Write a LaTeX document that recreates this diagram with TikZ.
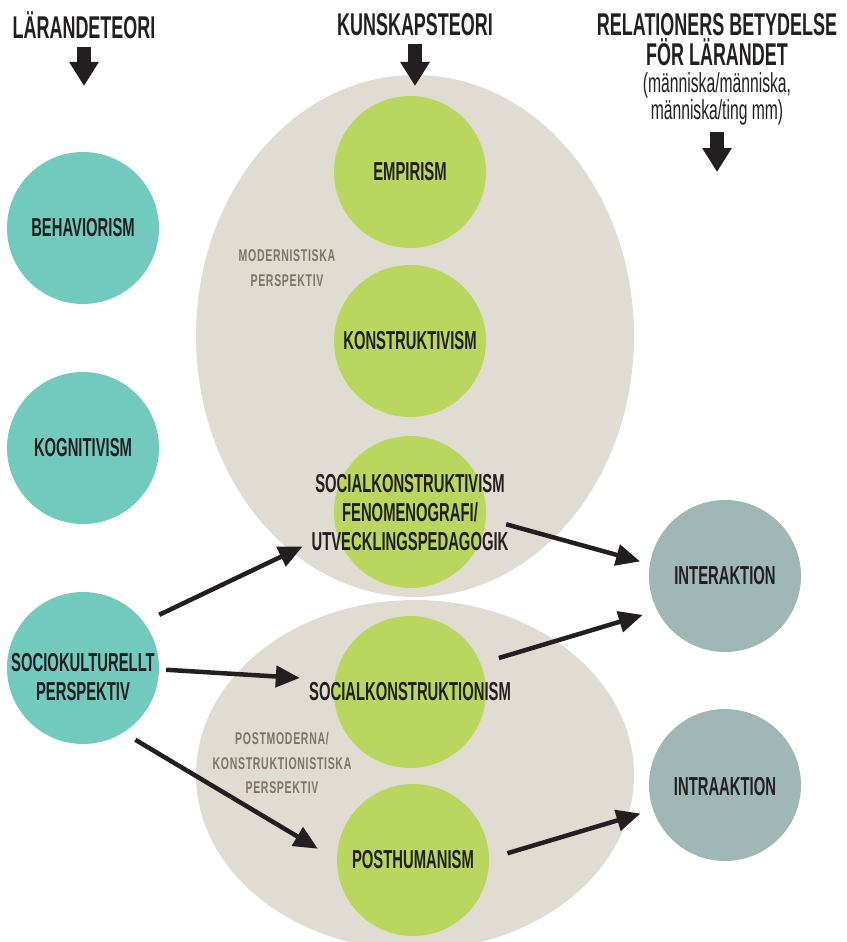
\documentclass[tikz,border=0pt]{standalone}
\usepackage{fontspec}
\setmainfont{Liberation Sans}
\newfontfamily\condfont[FakeStretch=0.57]{Liberation Sans}
\newfontfamily\lblfont[FakeStretch=0.62,LetterSpace=4]{Liberation Sans}
\usetikzlibrary{arrows.meta}
\definecolor{tealc}{HTML}{72C9BE}
\definecolor{greenc}{HTML}{B9D65F}
\definecolor{greyc}{HTML}{9FB7B6}
\definecolor{beigec}{HTML}{E1DCD1}
\definecolor{brownc}{HTML}{7F7465}
\definecolor{inkc}{HTML}{231F20}
\begin{document}
\begin{tikzpicture}[x=1pt, y=-1pt,
    circ/.style={circle, minimum size=152pt, inner sep=0pt},
    txt/.style={font=\condfont\bfseries\fontsize{26}{29}\selectfont, text=inkc, align=center, inner sep=0pt},
    hd/.style={font=\condfont\bfseries\fontsize{31.5}{30}\selectfont, text=inkc, align=center, inner sep=0pt},
    sub/.style={font=\condfont\fontsize{27.5}{27}\selectfont, text=inkc, align=center, inner sep=0pt},
    persp/.style={font=\lblfont\bfseries\fontsize{17}{24.5}\selectfont, text=brownc, align=center, inner sep=0pt},
    arr/.style={draw=inkc, line width=4.5pt, -{Triangle[length=24pt, width=21pt]}},
    hdarr/.style={draw=inkc, line width=14pt, -{Triangle[length=24pt, width=28pt]}}]
\useasboundingbox (0,0) rectangle (846,942);

% perspektiv
\fill[beigec] (415,336) ellipse [x radius=219, y radius=261];
\fill[beigec] (415,775) ellipse [x radius=219, y radius=175];
\node[persp] (modern) at (287,268) {MODERNISTISKA\\PERSPEKTIV};
\node[persp] (postmod) at (282,763) {POSTMODERNA/\\KONSTRUKTIONISTISKA\\PERSPEKTIV};

% rubriker
\node[hd] (lt) at (84,25) {LÄRANDETEORI};
\node[hd] (kt) at (415,25) {KUNSKAPSTEORI};
\node[hd] (rb) at (717,40) {RELATIONERS BETYDELSE\\FÖR LÄRANDET};
\node[sub] (rbsub) at (717,99) {(människa/människa,\\människa/ting mm)};
\coordinate (lttip) at (84,86);
\coordinate (kttip) at (415,86);
\coordinate (rbtip) at (717,172);
\draw[hdarr, shorten <=8pt] (lt.south) -- (lttip);
\draw[hdarr, shorten <=8pt] (kt.south) -- (kttip);
\draw[hdarr, shorten <=6pt] (rbsub.south) -- (rbtip);

% lärandeteori
\node[circ, fill=tealc] (beh) at (83,228) {};
\node[circ, fill=tealc] (kog) at (83,448) {};
\node[circ, fill=tealc] (soc) at (83,668) {};
\node[txt] at (beh) {BEHAVIORISM};
\node[txt] at (kog) {KOGNITIVISM};
\node[txt] at (83,677) {SOCIOKULTURELLT\\PERSPEKTIV};

% kunskapsteori
\node[circ, fill=greenc] (emp) at (410,172) {};
\node[circ, fill=greenc] (kon) at (410,341) {};
\node[circ, fill=greenc] (sk) at (410,512) {};
\node[circ, fill=greenc] (sn) at (410,692) {};
\node[circ, fill=greenc] (post) at (413,860) {};
\node[txt] at (emp) {EMPIRISM};
\node[txt] at (kon) {KONSTRUKTIVISM};
\node[txt] at (410,513) {SOCIALKONSTRUKTIVISM\\FENOMENOGRAFI/\\UTVECKLINGSPEDAGOGIK};
\node[txt] at (sn) {SOCIALKONSTRUKTIONISM};
\node[txt] at (post) {POSTHUMANISM};

% relationer
\node[circ, fill=greyc] (inter) at (725,576) {};
\node[circ, fill=greyc] (intra) at (725,785) {};
\node[txt] at (inter) {INTERAKTION};
\node[txt] at (725,787) {INTRAAKTION};

% pilar
\draw[arr, shorten <=17pt, shorten >=37pt] (soc.37) -- (sk.194);
\draw[arr, shorten <=7pt, shorten >=35pt] (soc.-1) -- (sn.171);
\draw[arr, shorten <=14pt, shorten >=22pt] (soc.-58) -- (post.180);
\draw[arr, shorten <=21pt, shorten >=10pt] (sk.-5) -- (inter.171);
\draw[arr, shorten <=19pt, shorten >=15pt] (sn.22) -- (inter.207);
\draw[arr, shorten <=19pt, shorten >=13pt] (post.1) -- (intra.199);
\end{tikzpicture}
\end{document}
